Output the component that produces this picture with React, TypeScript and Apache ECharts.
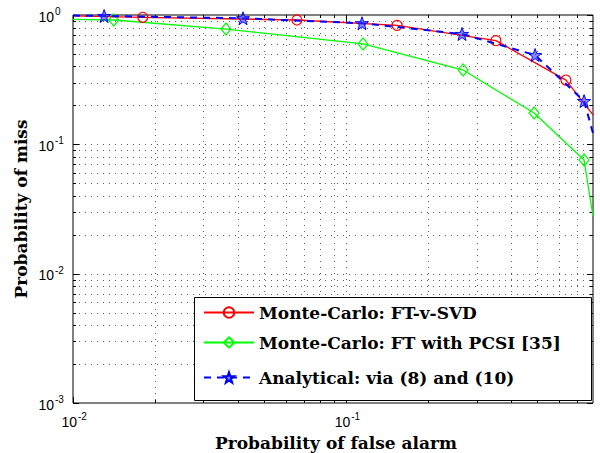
import React, { useEffect, useRef } from "react";
import * as echarts from "echarts";

// ---- tick labels (exponents of 10) ----
const xTickExponents = [-2, -1];
const yTickExponents = [-3, -2, -1, 0];

// ---- log grid values ----
const xGridValues = [
  0.01, 0.02, 0.03, 0.04, 0.05, 0.06, 0.07, 0.08, 0.09,
  0.1, 0.2, 0.3, 0.4, 0.5, 0.6, 0.7,
];
const yGridValues = [
  0.001, 0.002, 0.003, 0.004, 0.005, 0.006, 0.007, 0.008, 0.009,
  0.01, 0.02, 0.03, 0.04, 0.05, 0.06, 0.07, 0.08, 0.09,
  0.1, 0.2, 0.3, 0.4, 0.5, 0.6, 0.7, 0.8, 0.9, 1,
];

// ---- axis titles ----
const xAxisTitle = "Probability of false alarm";
const yAxisTitle = "Probability of miss";

// ---- series ----
const seriesNames = [
  "Monte-Carlo: FT-v-SVD",
  "Monte-Carlo: FT with PCSI [35]",
  "Analytical: via (8) and (10)",
];

const svdPfa = [0.01, 0.018, 0.066, 0.1535, 0.353, 0.637, 0.8];
const svdPm = [0.985, 0.96, 0.915, 0.832, 0.633, 0.314, 0.169];
const svdMarked = [false, true, true, true, true, true, false];

const pcsiPfa = [0.01, 0.0141, 0.0363, 0.1152, 0.2677, 0.4869, 0.742, 0.8];
const pcsiPm = [0.926, 0.915, 0.779, 0.597, 0.3755, 0.1746, 0.0756, 0.0279];
const pcsiMarked = [false, true, true, true, true, true, true, false];

const anaPfa = [0.01, 0.013, 0.0419, 0.1142, 0.2653, 0.491, 0.742, 0.8];
const anaPm = [0.99, 0.982, 0.943, 0.863, 0.713, 0.49, 0.216, 0.1223];
const anaMarked = [false, true, true, true, true, true, true, false];

const STAR =
  "path://M0,-10L2.35,-3.24L9.51,-3.09L3.8,1.24L5.88,8.09L0,4L-5.88,8.09L-3.8,1.24L-9.51,-3.09L-2.35,-3.24Z";

function buildData(xs: number[], ys: number[], marked: boolean[]) {
  return xs.map((x, i) =>
    marked[i] ? [x, ys[i]] : { value: [x, ys[i]], symbol: "none" }
  );
}

function isMajor(v: number) {
  const e = Math.log10(v);
  return Math.abs(e - Math.round(e)) < 1e-6;
}

function expText(e: number) {
  return e < 0 ? "-" + Math.abs(e) : String(e);
}

const X_MIN = 0.01;
const X_MAX = 0.8;
const Y_MIN = 0.001;
const Y_MAX = 1;

export default function App() {
  const ref = useRef<HTMLDivElement>(null);

  useEffect(() => {
    if (!ref.current) return;
    const chart = echarts.init(ref.current, undefined, { renderer: "svg" });

    const gridData: number[][] = [];
    xGridValues.forEach((v) => gridData.push([v, 1, 0, isMajor(v) ? 1 : 0]));
    yGridValues.forEach((v) => gridData.push([0.01, v, 1, isMajor(v) ? 1 : 0]));

    const dot = { stroke: "#444", lineWidth: 1, lineDash: [1, 5], opacity: 0.85 };
    const tickStyle = { stroke: "#000", lineWidth: 1 };

    const legendFont = {
      fontFamily: "DejaVu Serif",
      fontWeight: "bold",
      fontSize: 17,
      color: "#000",
    };
    const rowY = [313, 343, 378];

    const legendBox = {
      id: "legendBox",
      type: "rect",
      z: 10,
      shape: { x: 194.5, y: 297.5, width: 397, height: 103 },
      style: { fill: "#fff", stroke: "#000", lineWidth: 1 },
      silent: true,
    };

    const option: any = {
      animation: false,
      backgroundColor: "#fff",
      grid: {
        left: 73,
        right: 7,
        top: 15,
        bottom: 50,
        show: true,
        borderColor: "#000",
        borderWidth: 1,
        backgroundColor: "transparent",
        containLabel: false,
      },
      xAxis: {
        type: "log",
        logBase: 10,
        min: X_MIN,
        max: X_MAX,
        axisLine: { show: false },
        axisTick: { show: false },
        splitLine: { show: false },
        axisLabel: { show: false },
      },
      yAxis: {
        type: "log",
        logBase: 10,
        min: Y_MIN,
        max: Y_MAX,
        axisLine: { show: false },
        axisTick: { show: false },
        splitLine: { show: false },
        axisLabel: { show: false },
      },
      legend: seriesNames.map((n, i) => ({
        data: [n],
        left: 203,
        top: rowY[i] - 9,
        padding: 0,
        itemWidth: 50,
        itemHeight: 13,
        selectedMode: false,
        z: 20,
        textStyle: legendFont,
      })),
      graphic: [legendBox],
      series: [
        {
          type: "custom",
          name: "grid",
          silent: true,
          z: 1,
          clip: false,
          data: gridData,
          encode: { x: 0, y: 1 },
          renderItem: (params: any, api: any) => {
            const cs = params.coordSys;
            const kind = api.value(2);
            const major = api.value(3) === 1;
            const tl = major ? 6 : 3;
            const children: any[] = [];
            if (kind === 0) {
              const p = api.coord([api.value(0), 1]);
              const x = Math.round(p[0]) + 0.5;
              const top = cs.y;
              const bottom = cs.y + cs.height;
              if (Math.abs(x - cs.x) > 2) {
                children.push({
                  type: "line",
                  shape: { x1: x, y1: top, x2: x, y2: bottom },
                  style: dot,
                });
              }
              children.push({
                type: "line",
                shape: { x1: x, y1: bottom, x2: x, y2: bottom - tl },
                style: tickStyle,
              });
              children.push({
                type: "line",
                shape: { x1: x, y1: top, x2: x, y2: top + tl },
                style: tickStyle,
              });
            } else {
              const p = api.coord([0.01, api.value(1)]);
              const y = Math.round(p[1]) + 0.5;
              const left = cs.x;
              const right = cs.x + cs.width;
              if (Math.abs(y - cs.y) > 2 && Math.abs(y - (cs.y + cs.height)) > 2) {
                children.push({
                  type: "line",
                  shape: { x1: left, y1: y, x2: right, y2: y },
                  style: dot,
                });
              }
              children.push({
                type: "line",
                shape: { x1: left, y1: y, x2: left + tl, y2: y },
                style: tickStyle,
              });
              children.push({
                type: "line",
                shape: { x1: right, y1: y, x2: right - tl, y2: y },
                style: tickStyle,
              });
            }
            return { type: "group", children };
          },
        },
        {
          type: "line",
          name: seriesNames[0],
          z: 4,
          data: buildData(svdPfa, svdPm, svdMarked),
          symbol: "circle",
          symbolSize: 10,
          lineStyle: { color: "#ff0000", width: 1.3 },
          itemStyle: { color: "rgba(255,255,255,0)", borderColor: "#ff0000", borderWidth: 1.2 },
        },
        {
          type: "line",
          name: seriesNames[1],
          z: 3,
          data: buildData(pcsiPfa, pcsiPm, pcsiMarked),
          symbol: "diamond",
          symbolSize: [10, 12],
          lineStyle: { color: "#00ff00", width: 1.3 },
          itemStyle: { color: "rgba(255,255,255,0)", borderColor: "#00ff00", borderWidth: 1.2 },
        },
        {
          type: "line",
          name: seriesNames[2],
          z: 5,
          data: buildData(anaPfa, anaPm, anaMarked),
          symbol: STAR,
          symbolSize: 13,
          lineStyle: { color: "#0000ff", width: 2, type: [7, 6] },
          itemStyle: { color: "rgba(40,40,255,0.55)", borderColor: "#0000ff", borderWidth: 1 },
        },
      ],
    };

    chart.setOption(option);

    // ---- tick labels and axis titles, placed via the chart's own scales ----
    const baseFont = { fontFamily: "Liberation Sans", fill: "#000" };
    const labels: any[] = [];
    const gridRect = {
      left: chart.convertToPixel({ gridIndex: 0 }, [X_MIN, Y_MAX])[0],
      top: chart.convertToPixel({ gridIndex: 0 }, [X_MIN, Y_MAX])[1],
      right: chart.convertToPixel({ gridIndex: 0 }, [X_MAX, Y_MIN])[0],
      bottom: chart.convertToPixel({ gridIndex: 0 }, [X_MAX, Y_MIN])[1],
    };

    yTickExponents.forEach((e, i) => {
      const py = chart.convertToPixel({ gridIndex: 0 }, [X_MIN, Math.pow(10, e)])[1];
      const baseRight = gridRect.left - 19;
      labels.push({
        id: "yl10_" + i,
        type: "text",
        z: 30,
        x: baseRight,
        y: py + 1.5,
        style: { ...baseFont, text: "10", fontSize: 14, textAlign: "right", textVerticalAlign: "middle" },
        silent: true,
      });
      labels.push({
        id: "ylexp_" + i,
        type: "text",
        z: 30,
        x: baseRight + 1,
        y: py - 3.5,
        style: { ...baseFont, text: expText(e), fontSize: 10, textAlign: "left", textVerticalAlign: "middle" },
        silent: true,
      });
    });

    xTickExponents.forEach((e, i) => {
      const px = chart.convertToPixel({ gridIndex: 0 }, [Math.pow(10, e), Y_MIN])[0];
      const baseRight = px + 4;
      labels.push({
        id: "xl10_" + i,
        type: "text",
        z: 30,
        x: baseRight,
        y: gridRect.bottom + 19,
        style: { ...baseFont, text: "10", fontSize: 14, textAlign: "right", textVerticalAlign: "middle" },
        silent: true,
      });
      labels.push({
        id: "xlexp_" + i,
        type: "text",
        z: 30,
        x: baseRight + 1,
        y: gridRect.bottom + 13,
        style: { ...baseFont, text: expText(e), fontSize: 10, textAlign: "left", textVerticalAlign: "middle" },
        silent: true,
      });
    });

    const titleFont = {
      fontFamily: "DejaVu Serif",
      fontWeight: "bold",
      fontSize: 17,
      fill: "#000",
      textAlign: "center",
      textVerticalAlign: "middle",
    };
    labels.push({
      id: "xTitle",
      type: "text",
      z: 30,
      x: (gridRect.left + gridRect.right) / 2 + 3,
      y: gridRect.bottom + 40,
      style: { ...titleFont, text: xAxisTitle },
      silent: true,
    });
    labels.push({
      id: "yTitle",
      type: "text",
      z: 30,
      x: 21,
      y: (gridRect.top + gridRect.bottom) / 2,
      rotation: Math.PI / 2,
      style: { ...titleFont, text: yAxisTitle },
      silent: true,
    });

    chart.setOption({ graphic: [legendBox, ...labels] });

    return () => chart.dispose();
  }, []);

  return (
    <div
      ref={ref}
      style={{ position: "fixed", left: 0, top: 0, width: 600, height: 453, background: "#fff" }}
    />
  );
}
